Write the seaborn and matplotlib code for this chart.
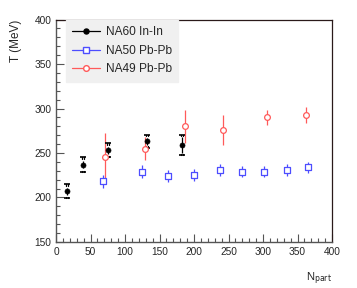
import numpy as np
import pandas as pd
import matplotlib
matplotlib.use("Agg")
import matplotlib.pyplot as plt
import seaborn as sns
from matplotlib.ticker import MultipleLocator
from matplotlib.lines import Line2D

# ---- data ----
na60_x = [16, 39, 75, 132, 183]
na60_y = [207, 237, 253, 263, 259]
na60_stat = [4, 4, 4, 4, 9]
na60_sys = [8, 8.5, 8, 7.5, 11.5]

na50_x = [68, 124, 162, 200, 238, 270, 301, 335, 365]
na50_y = [218, 229, 224, 225, 231, 229, 229, 231, 234]
na50_err = [7, 7, 7, 7, 7, 6, 6, 7, 6]

na49_x = [71, 129, 187, 242, 306, 362]
na49_y = [246, 255, 280, 276, 290, 293]
na49_err = [26, 13, 18.5, 17, 8.5, 9]

labels = ["NA60 In-In", "NA50 Pb-Pb", "NA49 Pb-Pb"]
x_ticks = [0, 50, 100, 150, 200, 250, 300, 350, 400]
y_ticks = [150, 200, 250, 300, 350, 400]

BLACK = "#000000"
BLUE = "#4d4dff"
RED = "#ff5a5a"

sns.set_style("ticks")
plt.rcParams["font.family"] = ["Liberation Sans", "DejaVu Sans"]

fig = plt.figure(figsize=(3.57, 2.88), dpi=100)
ax = fig.add_axes([0.157, 0.160, 0.773, 0.772])

df60 = pd.DataFrame({"x": na60_x, "y": na60_y})
df50 = pd.DataFrame({"x": na50_x, "y": na50_y})
df49 = pd.DataFrame({"x": na49_x, "y": na49_y})

# error bars
ax.errorbar(na49_x, na49_y, yerr=na49_err, fmt="none", ecolor=RED, elinewidth=0.9, capsize=0, zorder=2)
ax.errorbar(na50_x, na50_y, yerr=na50_err, fmt="none", ecolor=BLUE, elinewidth=0.9, capsize=0, zorder=2)
ax.errorbar(na60_x, na60_y, yerr=na60_stat, fmt="none", ecolor=BLACK, elinewidth=0.9, capsize=0, zorder=2)
# systematic brackets
ax.errorbar(na60_x, na60_y, yerr=na60_sys, fmt="none", ecolor=BLACK, elinewidth=0,
            capsize=2.0, capthick=1.2, zorder=2)
for xi, yi, si in zip(na60_x, na60_y, na60_sys):
    for sgn in (1, -1):
        ax.plot([xi - 1.5, xi - 1.5], [yi + sgn * si, yi + sgn * (si - 1.8)], color=BLACK, lw=0.9, zorder=2)
        ax.plot([xi + 1.5, xi + 1.5], [yi + sgn * si, yi + sgn * (si - 1.8)], color=BLACK, lw=0.9, zorder=2)

# markers
sns.scatterplot(data=df49, x="x", y="y", ax=ax, marker="o", s=17, facecolor="white",
                edgecolor=RED, linewidth=0.9, zorder=3, legend=False)
sns.scatterplot(data=df50, x="x", y="y", ax=ax, marker="s", s=15, facecolor="white",
                edgecolor=BLUE, linewidth=0.9, zorder=3, legend=False)
sns.scatterplot(data=df60, x="x", y="y", ax=ax, marker="o", s=13, color=BLACK,
                edgecolor=BLACK, linewidth=0.5, zorder=4, legend=False)

ax.set_xlim(0, 400)
ax.set_ylim(150, 400)
ax.set_xticks(x_ticks)
ax.set_yticks(y_ticks)
ax.xaxis.set_minor_locator(MultipleLocator(10))
ax.yaxis.set_minor_locator(MultipleLocator(10))
ax.tick_params(which="major", direction="in", length=6, width=0.8, color="#555555",
               labelsize=7.3, pad=3.5, top=False, right=False)
ax.tick_params(which="minor", direction="in", length=3, width=0.8, color="#555555",
               top=False, right=False)
for side in ["left", "bottom"]:
    ax.spines[side].set_color("#555555")
    ax.spines[side].set_linewidth(1.0)
for side in ["top", "right"]:
    ax.spines[side].set_color("#2a1a1a")
    ax.spines[side].set_linewidth(0.9)

ax.set_xlabel(r"N$_{\mathrm{part}}$", fontsize=8, loc="right")
ax.xaxis.set_label_coords(1.0, -0.13)
ax.set_ylabel("T (MeV)", fontsize=8.5, loc="top")
ax.yaxis.set_label_coords(-0.125, 1.0)

handles = [
    Line2D([], [], color=BLACK, marker="o", markersize=3.6, markerfacecolor=BLACK, lw=0.9),
    Line2D([], [], color=BLUE, marker="s", markersize=3.8, markerfacecolor="white", lw=0.9),
    Line2D([], [], color=RED, marker="o", markersize=4.1, markerfacecolor="white", lw=0.9),
]
leg = ax.legend(handles, labels, loc="upper left", bbox_to_anchor=(0.035, 1.0), fontsize=8.6,
                frameon=True, fancybox=False, facecolor="#f0f0f0", edgecolor="#f0f0f0",
                framealpha=1, handlelength=2.3, borderpad=0.55, labelspacing=0.55,
                handletextpad=0.5, borderaxespad=0)

fig.savefig("out.png", dpi=100)
